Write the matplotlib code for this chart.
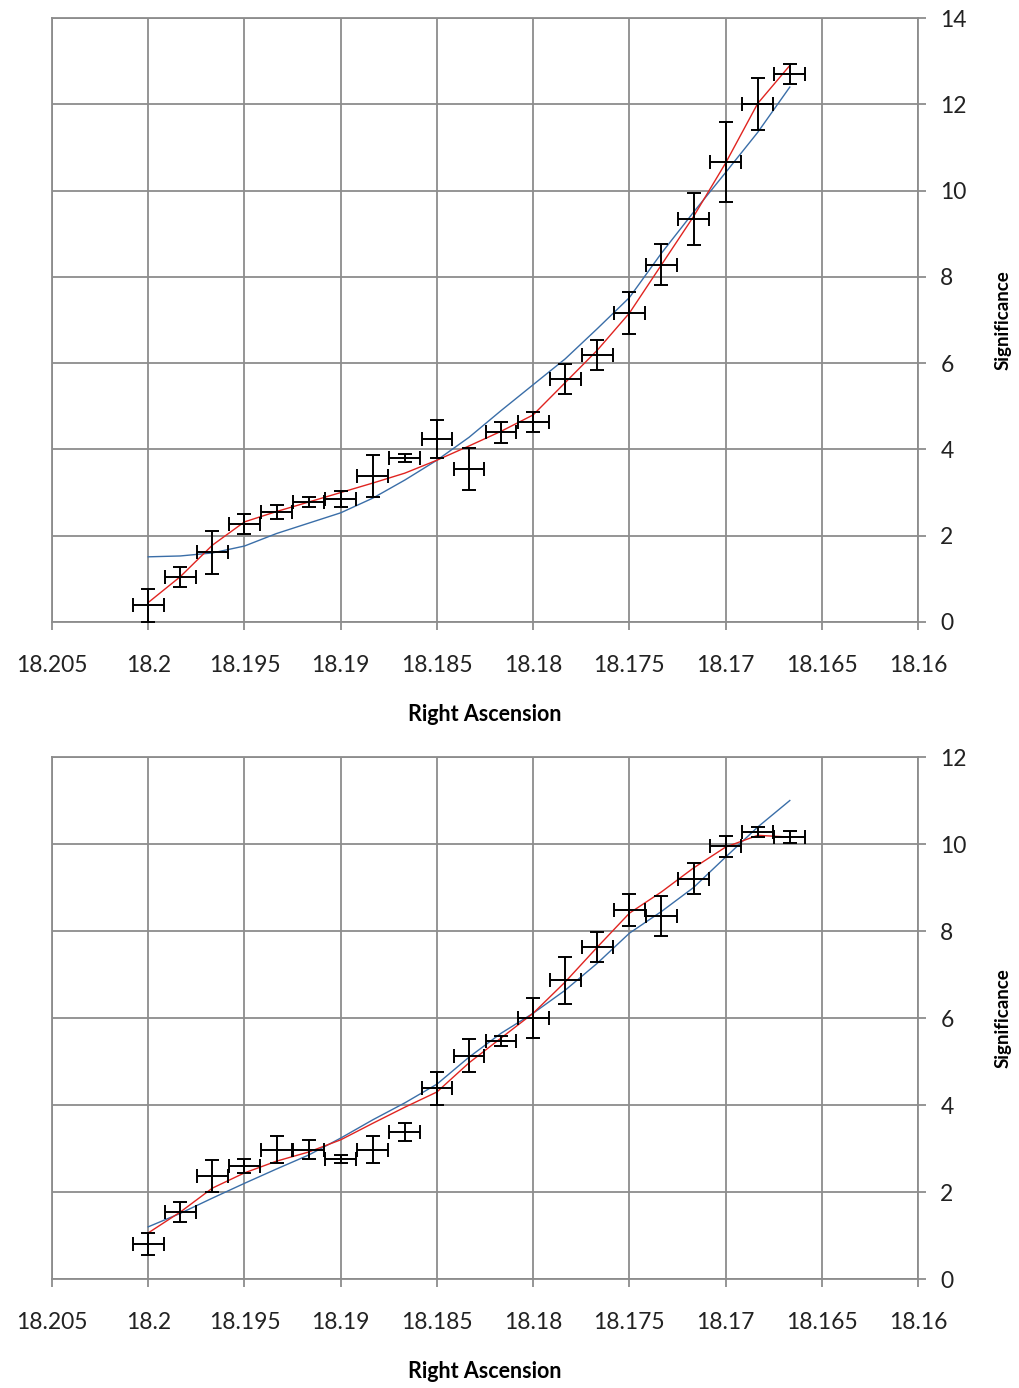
import numpy as np
import matplotlib
matplotlib.use("Agg")
import matplotlib.pyplot as plt
from matplotlib.ticker import FuncFormatter, MultipleLocator

plt.rcParams['font.family'] = ['Lato', 'DejaVu Sans']

# === Data ===
ra = [18.2 - k * 0.005 / 3 for k in range(21)]
ra_err = [0.0008] * 21

# top panel
sig_top = [0.39, 1.04, 1.62, 2.27, 2.55, 2.78, 2.85, 3.38, 3.80, 4.24, 3.55,
           4.40, 4.63, 5.63, 6.19, 7.16, 8.28, 9.34, 10.66, 12.00, 12.70]
err_top = [0.38, 0.23, 0.50, 0.24, 0.16, 0.12, 0.18, 0.48, 0.10, 0.44, 0.48,
           0.24, 0.23, 0.35, 0.35, 0.48, 0.48, 0.60, 0.92, 0.60, 0.24]
red_top = [0.45, 1.05, 1.78, 2.32, 2.56, 2.78, 3.00, 3.22, 3.45, 3.75, 4.08,
           4.42, 4.80, 5.55, 6.30, 7.16, 8.28, 9.40, 10.64, 12.02, 12.90]
blue_top = [1.51, 1.53, 1.60, 1.76, 2.05, 2.29, 2.53, 2.87, 3.29, 3.75, 4.28,
            4.90, 5.50, 6.10, 6.80, 7.52, 8.55, 9.50, 10.42, 11.35, 12.40]

# bottom panel
sig_bot = [0.80, 1.54, 2.37, 2.60, 2.97, 2.97, 2.76, 2.97, 3.38, 4.39, 5.13,
           5.47, 6.00, 6.87, 7.63, 8.48, 8.34, 9.20, 9.95, 10.28, 10.16]
err_bot = [0.25, 0.24, 0.37, 0.16, 0.31, 0.22, 0.10, 0.31, 0.20, 0.38, 0.38,
           0.12, 0.46, 0.54, 0.34, 0.36, 0.46, 0.36, 0.24, 0.11, 0.14]
red_bot = [1.06, 1.54, 2.09, 2.44, 2.71, 2.92, 3.20, 3.58, 3.95, 4.30, 4.97,
           5.54, 6.11, 6.83, 7.63, 8.41, 8.90, 9.45, 9.93, 10.20, 10.16]
blue_bot = [1.20, 1.51, 1.86, 2.20, 2.53, 2.85, 3.24, 3.66, 4.05, 4.48, 5.10,
            5.65, 6.11, 6.64, 7.26, 7.95, 8.45, 9.00, 9.70, 10.39, 11.00]

xticks = [18.205, 18.2, 18.195, 18.19, 18.185, 18.18, 18.175, 18.17, 18.165, 18.16]

GRID = '#8c8c8c'

fig = plt.figure(figsize=(10.19, 13.88), dpi=100)
ax1 = fig.add_axes([0.051, 0.5519, 0.850, 0.4351])
ax2 = fig.add_axes([0.051, 0.0785, 0.850, 0.3761])


def style(ax, sig, err, red, blue, ymax):
    ax.plot(ra, blue, color='#3a6ea8', lw=1.0, zorder=2)
    ax.plot(ra, red, color='#e02420', lw=1.0, zorder=3)
    ax.errorbar(ra, sig, yerr=err, xerr=ra_err, fmt='none', ecolor='black',
                elinewidth=1.4, capsize=5, capthick=1.4, zorder=4)
    ax.set_xlim(18.205, 18.16)
    ax.set_ylim(0, ymax)
    ax.set_xticks(xticks)
    ax.xaxis.set_major_formatter(FuncFormatter(lambda v, p: '%g' % round(v, 3)))
    ax.yaxis.set_major_locator(MultipleLocator(2))
    ax.yaxis.tick_right()
    ax.yaxis.set_label_position('right')
    ax.grid(True, color=GRID, lw=1.3)
    ax.set_axisbelow(True)
    for s in ax.spines.values():
        s.set_color(GRID)
        s.set_linewidth(1.3)
    ax.tick_params(axis='both', colors=GRID, length=6, width=1.3,
                   labelcolor='#222222', labelsize=16.5)
    ax.tick_params(axis='x', pad=18)
    ax.tick_params(axis='y', pad=10)
    ax.set_xlabel('Right Ascension', fontsize=15.5, fontweight='bold', labelpad=20)
    ax.set_ylabel('Significance', fontsize=13.5, fontweight='bold', labelpad=20)


style(ax1, sig_top, err_top, red_top, blue_top, 14)
style(ax2, sig_bot, err_bot, red_bot, blue_bot, 12)

fig.savefig('out.png', dpi=100)
